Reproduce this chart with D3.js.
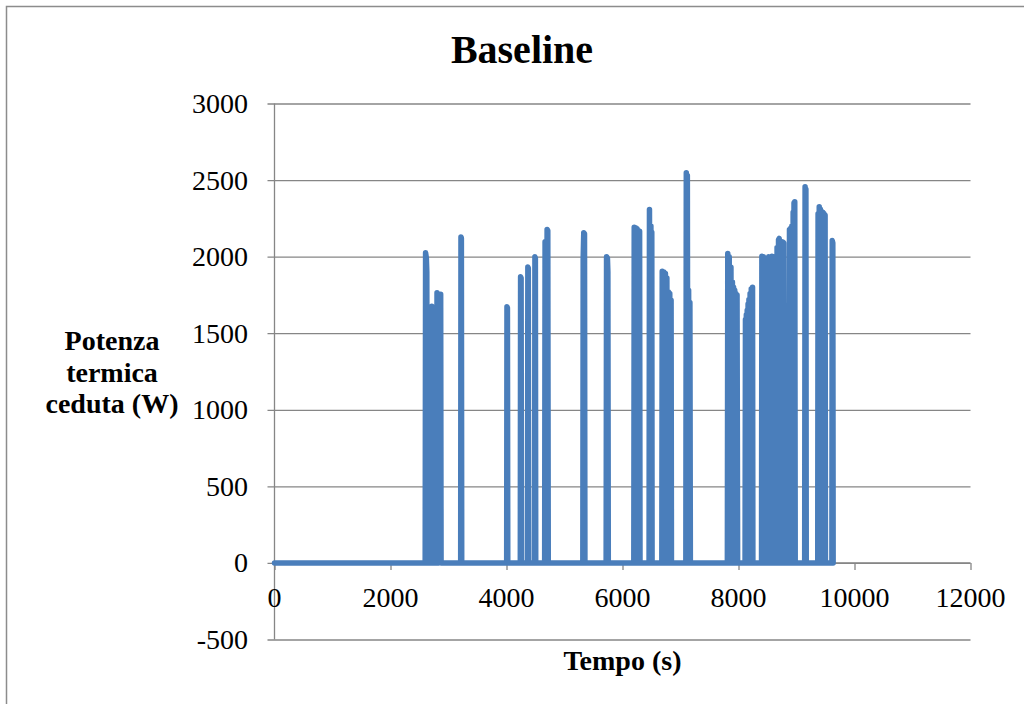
<!DOCTYPE html>
<html>
<head>
<meta charset="utf-8">
<script src="https://cdn.jsdelivr.net/npm/d3@7"></script>
<style>
  body { margin: 0; background: #fff; }
  svg text { font-family: "Liberation Serif", "Times New Roman", serif; fill: #000; }
</style>
</head>
<body>
<div id="chart"></div>
<script>
// time (s) and thermal power (W), one row per burst
const timeS = [
  0, 2590,
  2598, 2605, 2618, 2626, 2632,
  2705, 2712, 2735, 2758, 2765,
  2795, 2802, 2830, 2865, 2872,
  3210, 3215, 3222, 3228,
  4003, 4008, 4016, 4022,
  4238, 4243, 4252, 4258,
  4362, 4368, 4376, 4382,
  4484, 4490, 4498, 4504,
  4658, 4665, 4680, 4700, 4712, 4720,
  5316, 5322, 5332, 5345, 5352,
  5718, 5725, 5740, 5748, 5755,
  6195, 6202, 6215, 6225, 6240, 6250, 6262, 6272, 6285, 6295, 6302,
  6458, 6465, 6478, 6490, 6500, 6505, 6510,
  6678, 6685, 6700, 6712, 6727, 6740, 6752, 6765, 6777, 6790, 6802, 6815, 6827, 6838, 6844,
  7092, 7100, 7110, 7118, 7128, 7140, 7152, 7162, 7170,
  7808, 7815, 7828, 7840, 7855, 7870, 7883, 7895, 7905, 7915, 7925, 7935, 7945, 7955, 7965, 7975, 7985,
  8113, 8120, 8128, 8135, 8143, 8150, 8158, 8165, 8173, 8180, 8190, 8200, 8210, 8220, 8232, 8242, 8248,
  8397, 8403, 8415, 8430, 8442,
  8450, 8458, 8472, 8490, 8505,
  8512, 8520, 8535, 8550, 8562, 8576, 8590,
  8598, 8606, 8620, 8633, 8645,
  8655, 8665, 8678, 8690, 8702, 8715, 8725, 8740, 8752, 8765, 8780, 8792,
  8872, 8879, 8890, 8900, 8910, 8920, 8932, 8942, 8950, 8957, 8963, 8970, 8978,
  9141, 9148, 9158, 9162, 9168,
  9366, 9372, 9382, 9392, 9402, 9412, 9422, 9432, 9442, 9452, 9462, 9472, 9484, 9493, 9499,
  9610, 9616, 9626, 9632
];
const powerW = [
  0, 0,
  0, 2025, 1990, 1900, 0,
  0, 1676, 0, 1670, 0,
  0, 1764, 0, 1755, 0,
  0, 2129, 2120, 0,
  0, 1672, 1665, 0,
  0, 1868, 1860, 0,
  0, 1933, 1925, 0,
  0, 1999, 1990, 0,
  0, 2097, 0, 2178, 2170, 0,
  0, 1990, 2156, 2150, 0,
  0, 2000, 1990, 1900, 0,
  0, 2192, 0, 2188, 0, 2182, 0, 2170, 0, 2165, 0,
  0, 2308, 0, 2200, 0, 2160, 0,
  0, 1905, 0, 1900, 0, 1890, 0, 1860, 0, 1770, 0, 1760, 0, 1715, 0,
  0, 2547, 0, 2530, 0, 1780, 0, 1700, 0,
  0, 2021, 0, 2000, 0, 1930, 0, 1835, 0, 1800, 0, 1780, 0, 1760, 0, 1750, 0,
  0, 1590, 0, 1620, 0, 1650, 0, 1690, 0, 1720, 0, 1760, 0, 1790, 0, 1800, 0,
  0, 2003, 0, 2000, 0,
  0, 1982, 0, 1985, 0,
  0, 2000, 0, 2000, 0, 2003, 0,
  0, 2000, 0, 2000, 0,
  0, 2060, 0, 2110, 2119, 0, 2100, 2097, 0, 2095, 2090, 0,
  0, 2178, 0, 2185, 0, 2200, 0, 2290, 0, 2350, 0, 2358, 0,
  0, 2456, 0, 2440, 0,
  0, 2280, 0, 2325, 0, 2310, 0, 2295, 0, 2290, 0, 2282, 0, 2270, 0,
  0, 2105, 2090, 0
];
const xTicks = [0, 2000, 4000, 6000, 8000, 10000, 12000];
const yTicks = [-500, 0, 500, 1000, 1500, 2000, 2500, 3000];

const title = 'Baseline';
const xTitle = 'Tempo (s)';
const yTitle = ['Potenza', 'termica', 'ceduta (W)'];

const width = 1024, height = 704;
const plot = {left: 274.5, right: 970.5, top: 103.5, bottom: 639.5};

const points = timeS.map((t, i) => ({t: t, p: powerW[i]}));

const x = d3.scaleLinear().domain([0, 12000]).range([plot.left, plot.right]);
const y = d3.scaleLinear().domain([-500, 3000]).range([plot.bottom, plot.top]);

const svg = d3.select('#chart').append('svg')
    .attr('width', width)
    .attr('height', height);

// outer chart frame (runs off the right / bottom edge)
svg.append('rect')
    .attr('x', 6.5).attr('y', 6.5)
    .attr('width', 1040).attr('height', 720)
    .attr('fill', 'none')
    .attr('stroke', '#8c8c8c')
    .attr('stroke-width', 1.5);

// gridlines + y axis
const yAxis = d3.axisLeft(y)
    .tickValues(yTicks)
    .tickSize(-(plot.right - plot.left))
    .tickFormat('');
const gy = svg.append('g')
    .attr('transform', `translate(${plot.left},0)`)
    .call(yAxis);
gy.select('.domain').remove();
gy.selectAll('.tick line')
    .attr('x1', -7)
    .attr('stroke', '#868686')
    .attr('stroke-width', 1.3);

svg.append('line')
    .attr('x1', plot.left).attr('x2', plot.left)
    .attr('y1', plot.top).attr('y2', plot.bottom)
    .attr('stroke', '#868686')
    .attr('stroke-width', 1.3);

svg.selectAll('.ylab')
    .data(yTicks)
    .enter()
    .append('text')
    .attr('class', 'ylab')
    .attr('x', 248)
    .attr('y', d => y(d) + 9.5)
    .attr('text-anchor', 'end')
    .attr('font-size', 28)
    .text(d => d);

// x axis at zero
const xAxis = d3.axisBottom(x)
    .tickValues(xTicks)
    .tickSize(7)
    .tickFormat('');
const gx = svg.append('g')
    .attr('transform', `translate(0,${y(0)})`)
    .call(xAxis);
gx.select('.domain')
    .attr('d', `M${plot.left},0H${plot.right}`)
    .attr('stroke', '#868686')
    .attr('stroke-width', 1.3);
gx.selectAll('.tick line')
    .attr('stroke', '#868686')
    .attr('stroke-width', 1.3);

svg.selectAll('.xlab')
    .data(xTicks)
    .enter()
    .append('text')
    .attr('class', 'xlab')
    .attr('x', d => x(d))
    .attr('y', 607)
    .attr('text-anchor', 'middle')
    .attr('font-size', 28)
    .text(d => d);

// the series
const line = d3.line()
    .x(d => x(d.t))
    .y(d => y(d.p));

svg.append('path')
    .datum(points)
    .attr('d', line)
    .attr('fill', 'none')
    .attr('stroke', '#4a7ebb')
    .attr('stroke-width', 5.5)
    .attr('stroke-linejoin', 'round')
    .attr('stroke-linecap', 'round');

// titles
svg.append('text')
    .attr('x', 522)
    .attr('y', 63)
    .attr('text-anchor', 'middle')
    .attr('font-size', 40)
    .attr('font-weight', 'bold')
    .text(title);

svg.append('text')
    .attr('x', (plot.left + plot.right) / 2)
    .attr('y', 669.5)
    .attr('text-anchor', 'middle')
    .attr('font-size', 28)
    .attr('font-weight', 'bold')
    .text(xTitle);

svg.selectAll('.ytitle')
    .data(yTitle)
    .enter()
    .append('text')
    .attr('class', 'ytitle')
    .attr('x', 112)
    .attr('y', (d, i) => 350 + i * 31.5)
    .attr('text-anchor', 'middle')
    .attr('font-size', 28)
    .attr('font-weight', 'bold')
    .text(d => d);
</script>
</body>
</html>
